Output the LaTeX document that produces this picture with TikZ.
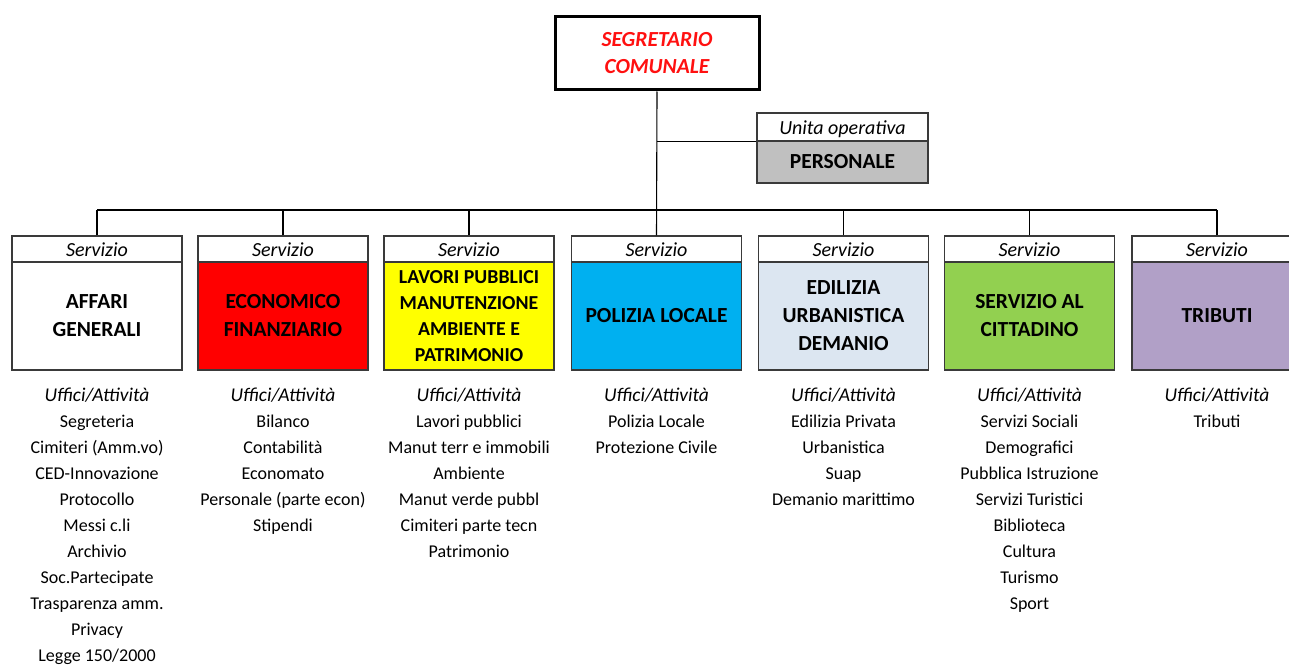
\documentclass[tikz,border=0pt]{standalone}
\usepackage{fontspec}
\setmainfont{Carlito}
\definecolor{linec}{HTML}{3A3A3A}
\definecolor{cred}{HTML}{FF0000}
\definecolor{cyellow}{HTML}{FFFF00}
\definecolor{cblue}{HTML}{00B0F0}
\definecolor{clblue}{HTML}{DCE6F1}
\definecolor{cgreen}{HTML}{92D050}
\definecolor{cpurple}{HTML}{B1A0C7}
\definecolor{cgray}{HTML}{C0C0C0}
\definecolor{ctitle}{HTML}{FF1010}
\begin{document}
\begin{tikzpicture}[x=1pt,y=-1pt,
  conn/.style={draw=black, line width=1.1pt},
  hdr/.style={draw=linec, line width=1.1pt, fill=white, minimum width=170pt, minimum height=26pt, inner sep=0pt,
    text height=15pt, text depth=1pt, font=\fontsize{20}{22}\selectfont\itshape},
  bodybox/.style={draw=linec, line width=1.1pt, minimum width=170pt, minimum height=108pt, inner sep=0pt,
    align=center, font=\fontsize{21.5}{28}\selectfont\bfseries},
  topbox/.style={draw=black, line width=3pt, minimum width=204pt, minimum height=73pt, inner sep=0pt,
    align=center, text=ctitle, font=\fontsize{21.5}{27}\selectfont\bfseries\itshape},
  listhead/.style={anchor=base, inner sep=0pt, font=\fontsize{19.5}{20}\selectfont\itshape},
  listitem/.style={anchor=base, inner sep=0pt, font=\fontsize{18}{20}\selectfont}
]
\useasboundingbox (0,0) rectangle (1289,666);

% top box
\node[topbox] (seg) at (657,53.5) {SEGRETARIO\\COMUNALE};

% personale
\node[hdr, minimum width=171pt, minimum height=28pt] (ph) at (842.5,127) {Unita operativa};
\node[bodybox, minimum width=171pt, minimum height=42pt, fill=cgray] (pb) at (842.5,162) {PERSONALE};

% services
\node[hdr] (h1) at (97,249) {Servizio};
\node[hdr] (h2) at (283,249) {Servizio};
\node[hdr] (h3) at (469,249) {Servizio};
\node[hdr] (h4) at (656.5,249) {Servizio};
\node[hdr] (h5) at (843.5,249) {Servizio};
\node[hdr] (h6) at (1029.5,249) {Servizio};
\node[hdr] (h7) at (1217,249) {Servizio};

\node[bodybox, fill=white] (b1) at (97,316) {AFFARI\\GENERALI};
\node[bodybox, fill=cred] (b2) at (283,316) {ECONOMICO\\FINANZIARIO};
\node[bodybox, fill=cyellow, font=\fontsize{19.8}{25.8}\selectfont\bfseries] (b3) at (469,316) {LAVORI PUBBLICI\\MANUTENZIONE\\AMBIENTE E\\PATRIMONIO};
\node[bodybox, fill=cblue] (b4) at (656.5,316) {POLIZIA LOCALE};
\node[bodybox, fill=clblue] (b5) at (843.5,316) {EDILIZIA\\URBANISTICA\\DEMANIO};
\node[bodybox, fill=cgreen] (b6) at (1029.5,316) {SERVIZIO AL\\CITTADINO};
\node[bodybox, fill=cpurple] (b7) at (1217,316) {TRIBUTI};

% connectors
\coordinate (busL) at (97,210);
\coordinate (busR) at (1217,210);
\draw[conn] (seg.south) -- (h4.north);
\draw[conn] (seg.south |- ph.south west) -- (ph.south west);
\draw[conn] (busL) -- (busR);
\foreach \i in {1,2,3,5,6,7} \draw[conn] (h\i.north) -- (h\i.north |- busL);

% lists
\foreach \i/\x in {1/97,2/283,3/469,4/656.5,5/843.5,6/1029.5,7/1217}
  \node[listhead] (u\i) at (\x,401.5) {Uffici/Attività};

\foreach \t [count=\k] in {Segreteria,Cimiteri (Amm.vo),CED-Innovazione,Protocollo,Messi c.li,Archivio,Soc.Partecipate,Trasparenza amm.,Privacy,Legge 150/2000}
  \node[listitem] (la\k) at (97,{401.5+26*\k}) {\t};
\foreach \t [count=\k] in {Bilanco,Contabilità,Economato,Personale (parte econ),Stipendi}
  \node[listitem] (lb\k) at (283,{401.5+26*\k}) {\t};
\foreach \t [count=\k] in {Lavori pubblici,Manut terr e immobili,Ambiente,Manut verde pubbl,Cimiteri parte tecn,Patrimonio}
  \node[listitem] (lc\k) at (469,{401.5+26*\k}) {\t};
\foreach \t [count=\k] in {Polizia Locale,Protezione Civile}
  \node[listitem] (ld\k) at (656.5,{401.5+26*\k}) {\t};
\foreach \t [count=\k] in {Edilizia Privata,Urbanistica,Suap,Demanio marittimo}
  \node[listitem] (le\k) at (843.5,{401.5+26*\k}) {\t};
\foreach \t [count=\k] in {Servizi Sociali,Demografici,Pubblica Istruzione,Servizi Turistici,Biblioteca,Cultura,Turismo,Sport}
  \node[listitem] (lf\k) at (1029.5,{401.5+26*\k}) {\t};
\foreach \t [count=\k] in {Tributi}
  \node[listitem] (lg\k) at (1217,{401.5+26*\k}) {\t};
\end{tikzpicture}
\end{document}
